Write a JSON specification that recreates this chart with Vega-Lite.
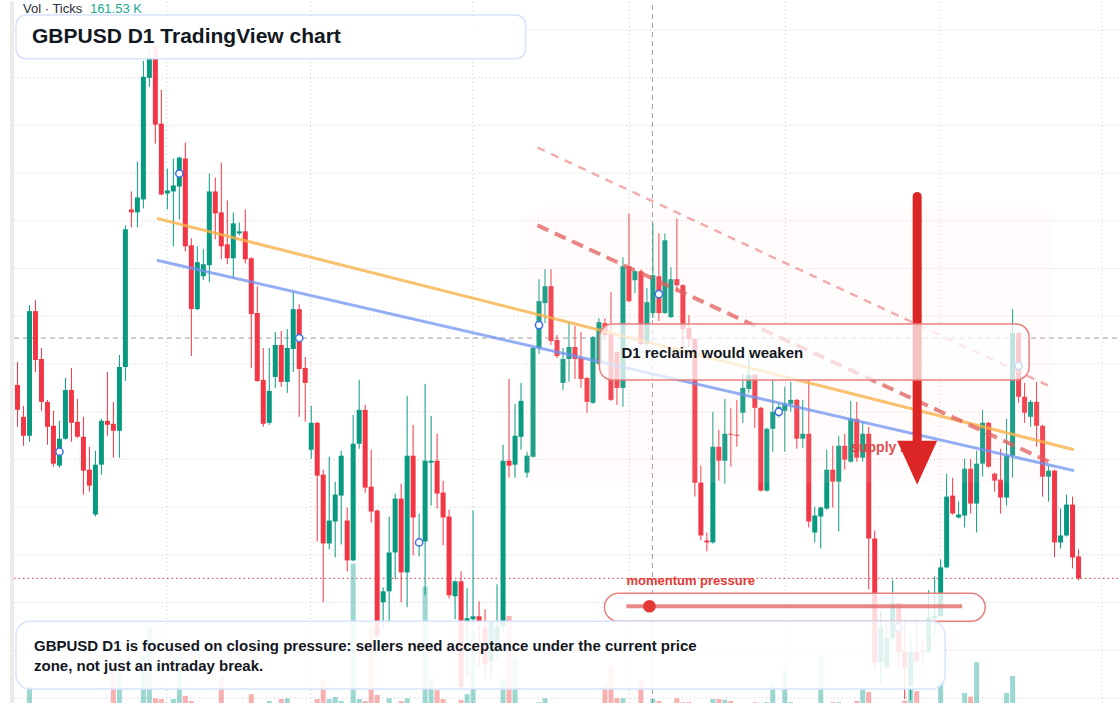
{
  "$schema": "https://vega.github.io/schema/vega-lite/v6.json",
  "width": 1120,
  "height": 704,
  "autosize": {"type": "fit", "contains": "padding"},
  "padding": 0,
  "background": "white",
  "config": {"view": {"stroke": null}, "scale": {"continuousPadding": 0}},
  "datasets": {
    "candles": [
      {"i":0,"o":1.2315,"h":1.2338,"l":1.2273,"c":1.229,"v":0},
      {"i":1,"o":1.2283,"h":1.2294,"l":1.2254,"c":1.2264,"v":0},
      {"i":2,"o":1.2264,"h":1.2395,"l":1.2258,"c":1.2389,"v":20},
      {"i":3,"o":1.2389,"h":1.24,"l":1.2328,"c":1.234,"v":0},
      {"i":4,"o":1.2341,"h":1.2352,"l":1.2289,"c":1.2298,"v":0},
      {"i":5,"o":1.2298,"h":1.23,"l":1.2255,"c":1.2273,"v":0},
      {"i":6,"o":1.2274,"h":1.2289,"l":1.2233,"c":1.2236,"v":0},
      {"i":7,"o":1.2234,"h":1.2279,"l":1.2232,"c":1.2261,"v":0,"m":1.2248},
      {"i":8,"o":1.2261,"h":1.2322,"l":1.226,"c":1.231,"v":0},
      {"i":9,"o":1.231,"h":1.2332,"l":1.2258,"c":1.2277,"v":0},
      {"i":10,"o":1.2278,"h":1.2301,"l":1.2262,"c":1.2263,"v":0},
      {"i":11,"o":1.2263,"h":1.2283,"l":1.2205,"c":1.2229,"v":0},
      {"i":12,"o":1.223,"h":1.2253,"l":1.2208,"c":1.2214,"v":0},
      {"i":13,"o":1.2185,"h":1.2249,"l":1.2183,"c":1.2235,"v":0},
      {"i":14,"o":1.2235,"h":1.2281,"l":1.2225,"c":1.2279,"v":0},
      {"i":15,"o":1.2279,"h":1.2328,"l":1.2264,"c":1.2275,"v":0},
      {"i":16,"o":1.2276,"h":1.2298,"l":1.2242,"c":1.2269,"v":46},
      {"i":17,"o":1.2269,"h":1.2345,"l":1.2242,"c":1.2333,"v":37},
      {"i":18,"o":1.2333,"h":1.2475,"l":1.2319,"c":1.2471,"v":0},
      {"i":19,"o":1.2491,"h":1.2509,"l":1.2473,"c":1.2488,"v":0},
      {"i":20,"o":1.2488,"h":1.2539,"l":1.2473,"c":1.2503,"v":0},
      {"i":21,"o":1.2501,"h":1.264,"l":1.2492,"c":1.2624,"v":60},
      {"i":22,"o":1.2623,"h":1.2655,"l":1.2614,"c":1.2643,"v":95},
      {"i":23,"o":1.2655,"h":1.2662,"l":1.2557,"c":1.2576,"v":6},
      {"i":24,"o":1.2577,"h":1.2611,"l":1.2505,"c":1.2506,"v":5},
      {"i":25,"o":1.2507,"h":1.2532,"l":1.2491,"c":1.251,"v":0},
      {"i":26,"o":1.2509,"h":1.2542,"l":1.2454,"c":1.2515,"v":5},
      {"i":27,"o":1.2514,"h":1.2544,"l":1.2481,"c":1.2543,"v":60,"m":1.2527},
      {"i":28,"o":1.2542,"h":1.2558,"l":1.2449,"c":1.2454,"v":9},
      {"i":29,"o":1.2455,"h":1.2462,"l":1.2344,"c":1.2391,"v":2.5},
      {"i":30,"o":1.2391,"h":1.2454,"l":1.239,"c":1.2438,"v":0},
      {"i":31,"o":1.2424,"h":1.2451,"l":1.242,"c":1.2436,"v":0},
      {"i":32,"o":1.2435,"h":1.2527,"l":1.2418,"c":1.2509,"v":0},
      {"i":33,"o":1.2509,"h":1.2523,"l":1.2461,"c":1.2487,"v":0},
      {"i":34,"o":1.2488,"h":1.2538,"l":1.2441,"c":1.2454,"v":32.5},
      {"i":35,"o":1.2456,"h":1.25,"l":1.2436,"c":1.2442,"v":0},
      {"i":36,"o":1.2442,"h":1.2488,"l":1.2422,"c":1.2477,"v":0},
      {"i":37,"o":1.2467,"h":1.2478,"l":1.2465,"c":1.2469,"v":0},
      {"i":38,"o":1.2469,"h":1.2491,"l":1.2437,"c":1.2441,"v":0},
      {"i":39,"o":1.2442,"h":1.2443,"l":1.2332,"c":1.2386,"v":11},
      {"i":40,"o":1.2387,"h":1.2414,"l":1.2318,"c":1.2319,"v":0},
      {"i":41,"o":1.232,"h":1.2352,"l":1.2273,"c":1.2276,"v":0},
      {"i":42,"o":1.2277,"h":1.2352,"l":1.2275,"c":1.2309,"v":2.5},
      {"i":43,"o":1.2323,"h":1.2368,"l":1.2312,"c":1.2355,"v":0},
      {"i":44,"o":1.2355,"h":1.2369,"l":1.2313,"c":1.2318,"v":5},
      {"i":45,"o":1.2318,"h":1.2371,"l":1.2307,"c":1.2352,"v":6},
      {"i":46,"o":1.2351,"h":1.2408,"l":1.2328,"c":1.2391,"v":0},
      {"i":47,"o":1.2391,"h":1.2396,"l":1.2283,"c":1.2331,"v":0,"m":1.2362},
      {"i":48,"o":1.2332,"h":1.2343,"l":1.2278,"c":1.2317,"v":0},
      {"i":49,"o":1.225,"h":1.2294,"l":1.2241,"c":1.2277,"v":0},
      {"i":50,"o":1.2277,"h":1.2278,"l":1.2158,"c":1.2224,"v":5},
      {"i":51,"o":1.2225,"h":1.223,"l":1.2097,"c":1.2156,"v":29},
      {"i":52,"o":1.2156,"h":1.2243,"l":1.215,"c":1.2179,"v":5},
      {"i":53,"o":1.2178,"h":1.2218,"l":1.2142,"c":1.2205,"v":7.5},
      {"i":54,"o":1.2204,"h":1.2249,"l":1.2155,"c":1.2244,"v":2.5},
      {"i":55,"o":1.2179,"h":1.2192,"l":1.2128,"c":1.2139,"v":0},
      {"i":56,"o":1.2139,"h":1.2285,"l":1.2138,"c":1.2256,"v":175},
      {"i":57,"o":1.2256,"h":1.232,"l":1.2251,"c":1.229,"v":5},
      {"i":58,"o":1.229,"h":1.2295,"l":1.2207,"c":1.2212,"v":2.5},
      {"i":59,"o":1.2213,"h":1.225,"l":1.2177,"c":1.2188,"v":96},
      {"i":60,"o":1.2189,"h":1.219,"l":1.206,"c":1.2063,"v":10},
      {"i":61,"o":1.2097,"h":1.2112,"l":1.207,"c":1.2108,"v":0},
      {"i":62,"o":1.2108,"h":1.2183,"l":1.2076,"c":1.2147,"v":6},
      {"i":63,"o":1.2147,"h":1.2206,"l":1.212,"c":1.2201,"v":0},
      {"i":64,"o":1.2201,"h":1.2216,"l":1.2097,"c":1.2127,"v":2.5},
      {"i":65,"o":1.2127,"h":1.2304,"l":1.2092,"c":1.2244,"v":6},
      {"i":66,"o":1.2244,"h":1.2275,"l":1.2144,"c":1.2182,"v":0},
      {"i":67,"o":1.2154,"h":1.2186,"l":1.2143,"c":1.216,"v":0,"m":1.2157},
      {"i":68,"o":1.2158,"h":1.2316,"l":1.2104,"c":1.2239,"v":146},
      {"i":69,"o":1.2237,"h":1.2284,"l":1.2194,"c":1.2239,"v":30},
      {"i":70,"o":1.2239,"h":1.2266,"l":1.2191,"c":1.2206,"v":16},
      {"i":71,"o":1.2207,"h":1.2219,"l":1.2154,"c":1.2182,"v":5},
      {"i":72,"o":1.2183,"h":1.219,"l":1.2101,"c":1.2104,"v":0},
      {"i":73,"o":1.2103,"h":1.2119,"l":1.208,"c":1.2118,"v":0},
      {"i":74,"o":1.2118,"h":1.2128,"l":1.201,"c":1.2012,"v":4},
      {"i":75,"o":1.2078,"h":1.2111,"l":1.2023,"c":1.2081,"v":11},
      {"i":76,"o":1.208,"h":1.2189,"l":1.2074,"c":1.2083,"v":91},
      {"i":77,"o":1.2083,"h":1.2098,"l":1.2033,"c":1.2078,"v":0},
      {"i":78,"o":1.2072,"h":1.209,"l":1.202,"c":1.2035,"v":0},
      {"i":79,"o":1.2038,"h":1.2074,"l":1.202,"c":1.2078,"v":0},
      {"i":80,"o":1.205,"h":1.2115,"l":1.204,"c":1.2073,"v":0},
      {"i":81,"o":1.2073,"h":1.2255,"l":1.2068,"c":1.2239,"v":30},
      {"i":82,"o":1.2239,"h":1.2321,"l":1.2222,"c":1.2234,"v":109},
      {"i":83,"o":1.2235,"h":1.2296,"l":1.2222,"c":1.2264,"v":56},
      {"i":84,"o":1.2263,"h":1.2317,"l":1.225,"c":1.2299,"v":0},
      {"i":85,"o":1.2227,"h":1.2248,"l":1.2222,"c":1.2244,"v":0},
      {"i":86,"o":1.2243,"h":1.2353,"l":1.2242,"c":1.2352,"v":0},
      {"i":87,"o":1.2352,"h":1.2421,"l":1.2346,"c":1.2399,"v":1,"m":1.2375},
      {"i":88,"o":1.2397,"h":1.2431,"l":1.2377,"c":1.2414,"v":6},
      {"i":89,"o":1.2414,"h":1.2431,"l":1.2355,"c":1.2359,"v":0},
      {"i":90,"o":1.236,"h":1.2365,"l":1.2342,"c":1.2344,"v":0},
      {"i":91,"o":1.2317,"h":1.2352,"l":1.231,"c":1.2341,"v":0},
      {"i":92,"o":1.2341,"h":1.2378,"l":1.2318,"c":1.2353,"v":0},
      {"i":93,"o":1.2353,"h":1.2374,"l":1.2321,"c":1.2341,"v":0},
      {"i":94,"o":1.2342,"h":1.2368,"l":1.2312,"c":1.2321,"v":0},
      {"i":95,"o":1.2322,"h":1.2323,"l":1.2287,"c":1.2298,"v":0},
      {"i":96,"o":1.2297,"h":1.2364,"l":1.2296,"c":1.2363,"v":0},
      {"i":97,"o":1.2336,"h":1.2382,"l":1.2335,"c":1.2378,"v":0},
      {"i":98,"o":1.2377,"h":1.2382,"l":1.236,"c":1.2365,"v":24},
      {"i":99,"o":1.2366,"h":1.2408,"l":1.2299,"c":1.23,"v":45},
      {"i":100,"o":1.2348,"h":1.2349,"l":1.2295,"c":1.2312,"v":6},
      {"i":101,"o":1.2312,"h":1.2443,"l":1.2293,"c":1.2434,"v":6},
      {"i":102,"o":1.2434,"h":1.2487,"l":1.2398,"c":1.2399,"v":0},
      {"i":103,"o":1.242,"h":1.243,"l":1.2407,"c":1.2429,"v":0},
      {"i":104,"o":1.2429,"h":1.2431,"l":1.2355,"c":1.2356,"v":29},
      {"i":105,"o":1.2356,"h":1.2412,"l":1.2355,"c":1.2398,"v":0},
      {"i":106,"o":1.2387,"h":1.2477,"l":1.2382,"c":1.2425,"v":5},
      {"i":107,"o":1.2424,"h":1.2467,"l":1.2379,"c":1.2387,"v":2.5,"m":1.2406},
      {"i":108,"o":1.2387,"h":1.2467,"l":1.2386,"c":1.246,"v":0},
      {"i":109,"o":1.2383,"h":1.2433,"l":1.2382,"c":1.2421,"v":0},
      {"i":110,"o":1.2421,"h":1.2482,"l":1.2408,"c":1.2415,"v":6},
      {"i":111,"o":1.2415,"h":1.2416,"l":1.2353,"c":1.2371,"v":1},
      {"i":112,"o":1.2372,"h":1.2385,"l":1.2353,"c":1.2361,"v":1},
      {"i":113,"o":1.2361,"h":1.2362,"l":1.2203,"c":1.2217,"v":0},
      {"i":114,"o":1.2217,"h":1.2234,"l":1.2159,"c":1.2164,"v":0},
      {"i":115,"o":1.2159,"h":1.2167,"l":1.2148,"c":1.2157,"v":0},
      {"i":116,"o":1.2157,"h":1.2288,"l":1.2156,"c":1.2253,"v":5},
      {"i":117,"o":1.2253,"h":1.227,"l":1.2219,"c":1.2239,"v":5},
      {"i":118,"o":1.2239,"h":1.2301,"l":1.2216,"c":1.2266,"v":4},
      {"i":119,"o":1.2266,"h":1.2292,"l":1.2233,"c":1.2265,"v":2.5},
      {"i":120,"o":1.2265,"h":1.23,"l":1.2253,"c":1.2264,"v":0},
      {"i":121,"o":1.2287,"h":1.2326,"l":1.2277,"c":1.2312,"v":0},
      {"i":122,"o":1.2311,"h":1.2345,"l":1.2307,"c":1.2325,"v":0},
      {"i":123,"o":1.2325,"h":1.2326,"l":1.2272,"c":1.2292,"v":1},
      {"i":124,"o":1.2292,"h":1.2293,"l":1.2208,"c":1.2209,"v":0},
      {"i":125,"o":1.2209,"h":1.2272,"l":1.2208,"c":1.2271,"v":1},
      {"i":126,"o":1.2271,"h":1.2321,"l":1.2248,"c":1.2288,"v":24},
      {"i":127,"o":1.2287,"h":1.2297,"l":1.2282,"c":1.2293,"v":0,"m":1.2288},
      {"i":128,"o":1.2289,"h":1.2313,"l":1.2248,"c":1.2296,"v":41},
      {"i":129,"o":1.2296,"h":1.2318,"l":1.2288,"c":1.23,"v":1},
      {"i":130,"o":1.23,"h":1.2301,"l":1.2251,"c":1.2261,"v":0},
      {"i":131,"o":1.2261,"h":1.23,"l":1.2252,"c":1.2266,"v":0},
      {"i":132,"o":1.2266,"h":1.232,"l":1.2172,"c":1.2178,"v":0},
      {"i":133,"o":1.2167,"h":1.2193,"l":1.2157,"c":1.2184,"v":0},
      {"i":134,"o":1.2183,"h":1.2193,"l":1.2151,"c":1.2192,"v":60},
      {"i":135,"o":1.2191,"h":1.225,"l":1.219,"c":1.223,"v":0},
      {"i":136,"o":1.223,"h":1.2254,"l":1.2192,"c":1.2218,"v":1},
      {"i":137,"o":1.2218,"h":1.2264,"l":1.2168,"c":1.2254,"v":1},
      {"i":138,"o":1.2254,"h":1.2266,"l":1.223,"c":1.224,"v":0},
      {"i":139,"o":1.2238,"h":1.2299,"l":1.2237,"c":1.2281,"v":0},
      {"i":140,"o":1.2281,"h":1.2298,"l":1.2238,"c":1.2242,"v":2.5},
      {"i":141,"o":1.2242,"h":1.2278,"l":1.2238,"c":1.2266,"v":17.5},
      {"i":142,"o":1.2266,"h":1.2273,"l":1.211,"c":1.2161,"v":14},
      {"i":143,"o":1.2161,"h":1.2169,"l":1.203,"c":1.2037,"v":0},
      {"i":144,"o":1.2037,"h":1.2088,"l":1.2015,"c":1.2072,"v":0},
      {"i":145,"o":1.2032,"h":1.2079,"l":1.2031,"c":1.2061,"v":0},
      {"i":146,"o":1.2061,"h":1.2119,"l":1.206,"c":1.2096,"v":0},
      {"i":147,"o":1.2096,"h":1.2097,"l":1.2033,"c":1.2047,"v":0,"m":1.2072},
      {"i":148,"o":1.2048,"h":1.208,"l":1.2,"c":1.2031,"v":3},
      {"i":149,"o":1.2013,"h":1.2061,"l":1.1999,"c":1.2047,"v":17.5},
      {"i":150,"o":1.2047,"h":1.208,"l":1.2037,"c":1.2038,"v":15},
      {"i":151,"o":1.2048,"h":1.2058,"l":1.2038,"c":1.2047,"v":0},
      {"i":152,"o":1.2047,"h":1.2109,"l":1.2046,"c":1.2081,"v":0},
      {"i":153,"o":1.2081,"h":1.2123,"l":1.2062,"c":1.2083,"v":0},
      {"i":154,"o":1.2083,"h":1.214,"l":1.2082,"c":1.2132,"v":26},
      {"i":155,"o":1.2132,"h":1.2226,"l":1.2131,"c":1.2203,"v":0},
      {"i":156,"o":1.2204,"h":1.2222,"l":1.2185,"c":1.2186,"v":0},
      {"i":157,"o":1.2182,"h":1.2198,"l":1.2181,"c":1.2185,"v":0},
      {"i":158,"o":1.2184,"h":1.2241,"l":1.2172,"c":1.2231,"v":12.5},
      {"i":159,"o":1.2231,"h":1.2241,"l":1.2186,"c":1.2196,"v":8},
      {"i":160,"o":1.2196,"h":1.2249,"l":1.2167,"c":1.2236,"v":51},
      {"i":161,"o":1.2236,"h":1.229,"l":1.2223,"c":1.2277,"v":0},
      {"i":162,"o":1.2277,"h":1.2278,"l":1.2232,"c":1.2233,"v":0},
      {"i":163,"o":1.2226,"h":1.2227,"l":1.2208,"c":1.2219,"v":0},
      {"i":164,"o":1.222,"h":1.2251,"l":1.2186,"c":1.2202,"v":0},
      {"i":165,"o":1.2202,"h":1.2281,"l":1.2194,"c":1.2244,"v":12.5},
      {"i":166,"o":1.2244,"h":1.2391,"l":1.2222,"c":1.2367,"v":34},
      {"i":167,"o":1.2367,"h":1.2368,"l":1.2297,"c":1.2303,"v":0,"m":1.2334},
      {"i":168,"o":1.2303,"h":1.2317,"l":1.2277,"c":1.2287,"v":0},
      {"i":169,"o":1.2283,"h":1.23,"l":1.2273,"c":1.2298,"v":0},
      {"i":170,"o":1.2298,"h":1.2318,"l":1.2253,"c":1.2274,"v":0},
      {"i":171,"o":1.2274,"h":1.2275,"l":1.2203,"c":1.2223,"v":0},
      {"i":172,"o":1.2223,"h":1.2234,"l":1.2198,"c":1.2229,"v":0},
      {"i":173,"o":1.2229,"h":1.223,"l":1.2142,"c":1.2157,"v":0},
      {"i":174,"o":1.2157,"h":1.2191,"l":1.2151,"c":1.2164,"v":0},
      {"i":175,"o":1.2164,"h":1.2205,"l":1.2163,"c":1.2195,"v":0},
      {"i":176,"o":1.2195,"h":1.2203,"l":1.2131,"c":1.2142,"v":0},
      {"i":177,"o":1.2143,"h":1.215,"l":1.2119,"c":1.2121,"v":0}
    ],
    "trend": [
      {"n":"orange","i1":23.25,"p1":1.2482,"i2":176.25,"p2":1.225},
      {"n":"blue","i1":23.25,"p1":1.244,"i2":176.25,"p2":1.2229},
      {"n":"redthick","i1":86.75,"p1":1.2475,"i2":172.42,"p2":1.2237},
      {"n":"redthin","i1":86.75,"p1":1.2553,"i2":172.42,"p2":1.2313}
    ]
  },
  "resolve": {"scale": {"y": "independent"}},
  "layer": [
    {
      "data": {"values": [{"a": -1.25, "b": -0.58, "t": 1.27, "u": 1.1996}]},
      "mark": {"type": "rect", "color": "#ebebeb"},
      "encoding": {
        "x": {"field": "a", "type": "quantitative", "scale": {"domain": [-2.9167, 183.75], "nice": false, "zero": false, "padding": 0}, "axis": null},
        "x2": {"field": "b"},
        "y": {"field": "t", "type": "quantitative", "scale": {"domain": [1.1996, 1.27], "nice": false, "zero": false, "padding": 0}, "axis": null},
        "y2": {"field": "u"}
      }
    },
    {
      "data": {"values": [{"g":1.2671},{"g":1.26231},{"g":1.25753},{"g":1.25274},{"g":1.24796},{"g":1.24317},{"g":1.23838},{"g":1.2336},{"g":1.22881},{"g":1.22403},{"g":1.21924},{"g":1.21445},{"g":1.20967},{"g":1.20488},{"g":1.2001}]},
      "mark": {"type": "rule", "color": "#c9c9c9", "strokeWidth": 1, "strokeDash": [1, 3]},
      "encoding": {
        "y": {"field": "g", "type": "quantitative", "scale": {"domain": [1.1996, 1.27], "nice": false, "zero": false, "padding": 0}, "axis": null},
        "x": {"datum": -0.58, "type": "quantitative", "scale": {"domain": [-2.9167, 183.75], "nice": false, "zero": false, "padding": 0}, "axis": null},
        "x2": {"datum": 183.75}
      }
    },
    {
      "data": {"values": [{"g":24.92},{"g":48.92},{"g":75.92},{"g":102.08},{"g":128.08},{"g":153.92},{"g":180.92}]},
      "mark": {"type": "rule", "color": "#c9c9c9", "strokeWidth": 1, "strokeDash": [1, 3]},
      "encoding": {
        "x": {"field": "g", "type": "quantitative", "scale": {"domain": [-2.9167, 183.75], "nice": false, "zero": false, "padding": 0}, "axis": null},
        "y": {"datum": 1.1996, "type": "quantitative", "scale": {"domain": [1.1996, 1.27], "nice": false, "zero": false, "padding": 0}, "axis": null},
        "y2": {"datum": 1.27}
      }
    },
    {
      "data": {"values": [{"p": 1.2362}]},
      "mark": {"type": "rule", "color": "#9a9a9a", "strokeWidth": 1, "strokeDash": [5, 4]},
      "encoding": {
        "y": {"field": "p", "type": "quantitative", "scale": {"domain": [1.1996, 1.27], "nice": false, "zero": false, "padding": 0}, "axis": null},
        "x": {"datum": -0.58, "type": "quantitative", "scale": {"domain": [-2.9167, 183.75], "nice": false, "zero": false, "padding": 0}, "axis": null},
        "x2": {"datum": 183.75}
      }
    },
    {
      "data": {"values": [{"q": 105.92}]},
      "mark": {"type": "rule", "color": "#9a9a9a", "strokeWidth": 1, "strokeDash": [5, 4]},
      "encoding": {
        "x": {"field": "q", "type": "quantitative", "scale": {"domain": [-2.9167, 183.75], "nice": false, "zero": false, "padding": 0}, "axis": null},
        "y": {"datum": 1.1996, "type": "quantitative", "scale": {"domain": [1.1996, 1.27], "nice": false, "zero": false, "padding": 0}, "axis": null},
        "y2": {"datum": 1.27}
      }
    },
    {
      "data": {"values": [{"p": 1.2121}]},
      "mark": {"type": "rule", "color": "#e0363c", "strokeWidth": 1, "strokeDash": [1.5, 3]},
      "encoding": {
        "y": {"field": "p", "type": "quantitative", "scale": {"domain": [1.1996, 1.27], "nice": false, "zero": false, "padding": 0}, "axis": null},
        "x": {"datum": -0.58, "type": "quantitative", "scale": {"domain": [-2.9167, 183.75], "nice": false, "zero": false, "padding": 0}, "axis": null},
        "x2": {"datum": 183.75}
      }
    },
    {
      "data": {"name": "candles"},
      "mark": {"type": "bar", "size": 5, "opacity": 0.45},
      "encoding": {
        "x": {"field": "i", "type": "quantitative", "scale": {"domain": [-2.9167, 183.75], "nice": false, "zero": false, "padding": 0}, "axis": null},
        "y": {"field": "v", "type": "quantitative", "scale": {"domain": [0, 880], "nice": false, "padding": 0}, "axis": null},
        "color": {"condition": {"test": "datum.c >= datum.o", "value": "#26a69a"}, "value": "#ef5350"}
      }
    },
    {
      "data": {"name": "candles"},
      "mark": {"type": "rule", "strokeWidth": 1},
      "encoding": {
        "x": {"field": "i", "type": "quantitative", "scale": {"domain": [-2.9167, 183.75], "nice": false, "zero": false, "padding": 0}, "axis": null},
        "y": {"field": "h", "type": "quantitative", "scale": {"domain": [1.1996, 1.27], "nice": false, "zero": false, "padding": 0}, "axis": null},
        "y2": {"field": "l"},
        "color": {"condition": {"test": "datum.c >= datum.o", "value": "#089981"}, "value": "#f23645"}
      }
    },
    {
      "data": {"name": "candles"},
      "mark": {"type": "bar", "size": 5},
      "encoding": {
        "x": {"field": "i", "type": "quantitative", "scale": {"domain": [-2.9167, 183.75], "nice": false, "zero": false, "padding": 0}, "axis": null},
        "y": {"field": "o", "type": "quantitative", "scale": {"domain": [1.1996, 1.27], "nice": false, "zero": false, "padding": 0}, "axis": null},
        "y2": {"field": "c"},
        "color": {"condition": {"test": "datum.c >= datum.o", "value": "#089981"}, "value": "#f23645"}
      }
    },
    {
      "data": {"values": [{"a": 84.92, "b": 172.58, "t": 1.2493, "u": 1.2217}]},
      "mark": {"type": "rect", "color": "#fbe6dc", "opacity": 0.1, "cornerRadius": 14},
      "encoding": {
        "x": {"field": "a", "type": "quantitative", "scale": {"domain": [-2.9167, 183.75], "nice": false, "zero": false, "padding": 0}, "axis": null},
        "x2": {"field": "b"},
        "y": {"field": "t", "type": "quantitative", "scale": {"domain": [1.1996, 1.27], "nice": false, "zero": false, "padding": 0}, "axis": null},
        "y2": {"field": "u"}
      }
    },
    {
      "data": {"name": "trend"},
      "transform": [{"filter": "datum.n == 'orange'"}],
      "mark": {"type": "rule", "color": "#f7b24a", "opacity": 0.8, "strokeWidth": 3},
      "encoding": {
        "x": {"field": "i1", "type": "quantitative", "scale": {"domain": [-2.9167, 183.75], "nice": false, "zero": false, "padding": 0}, "axis": null},
        "x2": {"field": "i2"},
        "y": {"field": "p1", "type": "quantitative", "scale": {"domain": [1.1996, 1.27], "nice": false, "zero": false, "padding": 0}, "axis": null},
        "y2": {"field": "p2"}
      }
    },
    {
      "data": {"name": "trend"},
      "transform": [{"filter": "datum.n == 'blue'"}],
      "mark": {"type": "rule", "color": "#6f93f2", "opacity": 0.75, "strokeWidth": 3},
      "encoding": {
        "x": {"field": "i1", "type": "quantitative", "scale": {"domain": [-2.9167, 183.75], "nice": false, "zero": false, "padding": 0}, "axis": null},
        "x2": {"field": "i2"},
        "y": {"field": "p1", "type": "quantitative", "scale": {"domain": [1.1996, 1.27], "nice": false, "zero": false, "padding": 0}, "axis": null},
        "y2": {"field": "p2"}
      }
    },
    {
      "data": {"name": "trend"},
      "transform": [{"filter": "datum.n == 'redthick'"}],
      "mark": {"type": "rule", "color": "#e35d5d", "opacity": 0.75, "strokeWidth": 4, "strokeDash": [12, 7]},
      "encoding": {
        "x": {"field": "i1", "type": "quantitative", "scale": {"domain": [-2.9167, 183.75], "nice": false, "zero": false, "padding": 0}, "axis": null},
        "x2": {"field": "i2"},
        "y": {"field": "p1", "type": "quantitative", "scale": {"domain": [1.1996, 1.27], "nice": false, "zero": false, "padding": 0}, "axis": null},
        "y2": {"field": "p2"}
      }
    },
    {
      "data": {"name": "trend"},
      "transform": [{"filter": "datum.n == 'redthin'"}],
      "mark": {"type": "rule", "color": "#ee8a8a", "opacity": 0.7, "strokeWidth": 2.5, "strokeDash": [8, 7]},
      "encoding": {
        "x": {"field": "i1", "type": "quantitative", "scale": {"domain": [-2.9167, 183.75], "nice": false, "zero": false, "padding": 0}, "axis": null},
        "x2": {"field": "i2"},
        "y": {"field": "p1", "type": "quantitative", "scale": {"domain": [1.1996, 1.27], "nice": false, "zero": false, "padding": 0}, "axis": null},
        "y2": {"field": "p2"}
      }
    },
    {
      "data": {"name": "candles"},
      "transform": [{"filter": "isValid(datum.m)"}],
      "mark": {"type": "point", "shape": "circle", "filled": true, "fill": "white", "stroke": "#3d6ee6", "strokeWidth": 1.5, "size": 52, "opacity": 1},
      "encoding": {
        "x": {"field": "i", "type": "quantitative", "scale": {"domain": [-2.9167, 183.75], "nice": false, "zero": false, "padding": 0}, "axis": null},
        "y": {"field": "m", "type": "quantitative", "scale": {"domain": [1.1996, 1.27], "nice": false, "zero": false, "padding": 0}, "axis": null}
      }
    },
    {
      "data": {"values": [{"x": 139.08, "y": 1.2252, "t": "supply zone"}]},
      "mark": {"type": "text", "align": "left", "baseline": "middle", "font": "Liberation Sans", "fontSize": 14, "fontWeight": "bold", "color": "#e23b3b", "opacity": 0.9},
      "encoding": {
        "x": {"field": "x", "type": "quantitative", "scale": {"domain": [-2.9167, 183.75], "nice": false, "zero": false, "padding": 0}, "axis": null},
        "y": {"field": "y", "type": "quantitative", "scale": {"domain": [1.1996, 1.27], "nice": false, "zero": false, "padding": 0}, "axis": null},
        "text": {"field": "t"}
      }
    },
    {
      "data": {"values": [{"x": 150.08, "a": 1.2504, "b": 1.2257}]},
      "mark": {"type": "rule", "color": "#dc2626", "strokeWidth": 9, "strokeCap": "round"},
      "encoding": {
        "x": {"field": "x", "type": "quantitative", "scale": {"domain": [-2.9167, 183.75], "nice": false, "zero": false, "padding": 0}, "axis": null},
        "y": {"field": "a", "type": "quantitative", "scale": {"domain": [1.1996, 1.27], "nice": false, "zero": false, "padding": 0}, "axis": null},
        "y2": {"field": "b"}
      }
    },
    {
      "data": {"values": [{"x": 150.08, "y": 1.2239}]},
      "mark": {"type": "point", "shape": "M-1,-1L1,-1L0,1.2Z", "filled": true, "color": "#dc2626", "size": 1600, "opacity": 1},
      "encoding": {
        "x": {"field": "x", "type": "quantitative", "scale": {"domain": [-2.9167, 183.75], "nice": false, "zero": false, "padding": 0}, "axis": null},
        "y": {"field": "y", "type": "quantitative", "scale": {"domain": [1.1996, 1.27], "nice": false, "zero": false, "padding": 0}, "axis": null}
      }
    },
    {
      "data": {"values": [{"a": 97.08, "b": 168.75, "t": 1.2376, "u": 1.232}]},
      "mark": {"type": "rect", "fill": "white", "fillOpacity": 0.72, "stroke": "#e88080", "strokeWidth": 1.5, "cornerRadius": 13},
      "encoding": {
        "x": {"field": "a", "type": "quantitative", "scale": {"domain": [-2.9167, 183.75], "nice": false, "zero": false, "padding": 0}, "axis": null},
        "x2": {"field": "b"},
        "y": {"field": "t", "type": "quantitative", "scale": {"domain": [1.1996, 1.27], "nice": false, "zero": false, "padding": 0}, "axis": null},
        "y2": {"field": "u"}
      }
    },
    {
      "data": {"values": [{"x": 100.75, "y": 1.2347, "t": "D1 reclaim would weaken"}]},
      "mark": {"type": "text", "align": "left", "baseline": "middle", "font": "Liberation Sans", "fontSize": 15, "fontWeight": "bold", "color": "#131722"},
      "encoding": {
        "x": {"field": "x", "type": "quantitative", "scale": {"domain": [-2.9167, 183.75], "nice": false, "zero": false, "padding": 0}, "axis": null},
        "y": {"field": "y", "type": "quantitative", "scale": {"domain": [1.1996, 1.27], "nice": false, "zero": false, "padding": 0}, "axis": null},
        "text": {"field": "t"}
      }
    },
    {
      "data": {"values": [{"a": 97.92, "b": 161.42, "t": 1.2106, "u": 1.2078}]},
      "mark": {"type": "rect", "fill": "white", "fillOpacity": 0.8, "stroke": "#e88080", "strokeWidth": 1.5, "cornerRadius": 14},
      "encoding": {
        "x": {"field": "a", "type": "quantitative", "scale": {"domain": [-2.9167, 183.75], "nice": false, "zero": false, "padding": 0}, "axis": null},
        "x2": {"field": "b"},
        "y": {"field": "t", "type": "quantitative", "scale": {"domain": [1.1996, 1.27], "nice": false, "zero": false, "padding": 0}, "axis": null},
        "y2": {"field": "u"}
      }
    },
    {
      "data": {"values": [{"a": 101.58, "b": 157.58, "p": 1.2093}]},
      "mark": {"type": "rule", "color": "#e57373", "strokeWidth": 4, "opacity": 0.85},
      "encoding": {
        "x": {"field": "a", "type": "quantitative", "scale": {"domain": [-2.9167, 183.75], "nice": false, "zero": false, "padding": 0}, "axis": null},
        "x2": {"field": "b"},
        "y": {"field": "p", "type": "quantitative", "scale": {"domain": [1.1996, 1.27], "nice": false, "zero": false, "padding": 0}, "axis": null}
      }
    },
    {
      "data": {"values": [{"x": 105.42, "y": 1.2093}]},
      "mark": {"type": "point", "shape": "circle", "filled": true, "color": "#e53935", "size": 160, "opacity": 1},
      "encoding": {
        "x": {"field": "x", "type": "quantitative", "scale": {"domain": [-2.9167, 183.75], "nice": false, "zero": false, "padding": 0}, "axis": null},
        "y": {"field": "y", "type": "quantitative", "scale": {"domain": [1.1996, 1.27], "nice": false, "zero": false, "padding": 0}, "axis": null}
      }
    },
    {
      "data": {"values": [{"x": 101.58, "y": 1.2118, "t": "momentum pressure"}]},
      "mark": {"type": "text", "align": "left", "baseline": "middle", "font": "Liberation Sans", "fontSize": 13, "fontWeight": "bold", "color": "#e53935"},
      "encoding": {
        "x": {"field": "x", "type": "quantitative", "scale": {"domain": [-2.9167, 183.75], "nice": false, "zero": false, "padding": 0}, "axis": null},
        "y": {"field": "y", "type": "quantitative", "scale": {"domain": [1.1996, 1.27], "nice": false, "zero": false, "padding": 0}, "axis": null},
        "text": {"field": "t"}
      }
    },
    {
      "data": {"values": [{"a": -0.25, "b": 154.75, "t": 1.2078, "u": 1.201}]},
      "mark": {"type": "rect", "fill": "white", "fillOpacity": 0.88, "stroke": "#d8e4fb", "strokeWidth": 1.5, "cornerRadius": 14},
      "encoding": {
        "x": {"field": "a", "type": "quantitative", "scale": {"domain": [-2.9167, 183.75], "nice": false, "zero": false, "padding": 0}, "axis": null},
        "x2": {"field": "b"},
        "y": {"field": "t", "type": "quantitative", "scale": {"domain": [1.1996, 1.27], "nice": false, "zero": false, "padding": 0}, "axis": null},
        "y2": {"field": "u"}
      }
    },
    {
      "data": {"values": [
        {"x": 2.75, "y": 1.2053, "t": "GBPUSD D1 is focused on closing pressure: sellers need acceptance under the current price"},
        {"x": 2.75, "y": 1.2033, "t": "zone, not just an intraday break."}
      ]},
      "mark": {"type": "text", "align": "left", "baseline": "middle", "font": "Liberation Sans", "fontSize": 15, "fontWeight": "bold", "color": "#131722"},
      "encoding": {
        "x": {"field": "x", "type": "quantitative", "scale": {"domain": [-2.9167, 183.75], "nice": false, "zero": false, "padding": 0}, "axis": null},
        "y": {"field": "y", "type": "quantitative", "scale": {"domain": [1.1996, 1.27], "nice": false, "zero": false, "padding": 0}, "axis": null},
        "text": {"field": "t"}
      }
    },
    {
      "data": {"values": [{"a": -0.25, "b": 84.75, "t": 1.2686, "u": 1.2642}]},
      "mark": {"type": "rect", "fill": "white", "fillOpacity": 0.92, "stroke": "#d8e4fb", "strokeWidth": 1.5, "cornerRadius": 10},
      "encoding": {
        "x": {"field": "a", "type": "quantitative", "scale": {"domain": [-2.9167, 183.75], "nice": false, "zero": false, "padding": 0}, "axis": null},
        "x2": {"field": "b"},
        "y": {"field": "t", "type": "quantitative", "scale": {"domain": [1.1996, 1.27], "nice": false, "zero": false, "padding": 0}, "axis": null},
        "y2": {"field": "u"}
      }
    },
    {
      "data": {"values": [{"x": 2.42, "y": 1.2664, "t": "GBPUSD D1 TradingView chart"}]},
      "mark": {"type": "text", "align": "left", "baseline": "middle", "font": "Liberation Sans", "fontSize": 21, "fontWeight": "bold", "color": "#131722"},
      "encoding": {
        "x": {"field": "x", "type": "quantitative", "scale": {"domain": [-2.9167, 183.75], "nice": false, "zero": false, "padding": 0}, "axis": null},
        "y": {"field": "y", "type": "quantitative", "scale": {"domain": [1.1996, 1.27], "nice": false, "zero": false, "padding": 0}, "axis": null},
        "text": {"field": "t"}
      }
    },
    {
      "data": {"values": [{"x": 0.92, "y": 1.2692, "t": "Vol · Ticks", "k": "a"}, {"x": 12.08, "y": 1.2692, "t": "161.53 K", "k": "b"}]},
      "mark": {"type": "text", "align": "left", "baseline": "middle", "font": "Liberation Sans", "fontSize": 13},
      "encoding": {
        "x": {"field": "x", "type": "quantitative", "scale": {"domain": [-2.9167, 183.75], "nice": false, "zero": false, "padding": 0}, "axis": null},
        "y": {"field": "y", "type": "quantitative", "scale": {"domain": [1.1996, 1.27], "nice": false, "zero": false, "padding": 0}, "axis": null},
        "text": {"field": "t"},
        "color": {"field": "k", "type": "nominal", "scale": {"domain": ["a", "b"], "range": ["#2a2e39", "#22ab94"]}, "legend": null}
      }
    }
  ]
}
